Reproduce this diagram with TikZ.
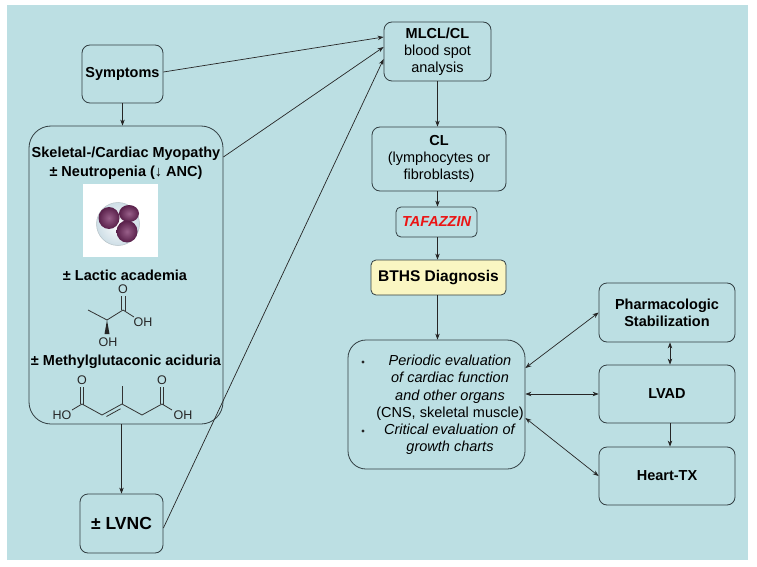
\documentclass[tikz,border=0pt]{standalone}
\usepackage{fontspec}
\setmainfont{Liberation Sans}
\usetikzlibrary{arrows.meta,calc}
\definecolor{bg}{RGB}{188,223,227}
\definecolor{boxline}{RGB}{50,62,66}
\definecolor{bthsfill}{RGB}{250,246,194}
\definecolor{tafred}{RGB}{235,20,20}
\definecolor{cellfill}{RGB}{206,222,230}
\definecolor{lobe}{RGB}{118,42,98}
\tikzset{
  box/.style={draw=boxline, rounded corners=8pt, line width=0.8pt, align=center, inner sep=0pt,
    font=\fontsize{14.5}{17}\selectfont},
  arr/.style={-{Stealth[length=6pt,width=4.5pt]}, line width=0.7pt, draw=black!85},
  darr/.style={{Stealth[length=6pt,width=4.5pt]}-{Stealth[length=6pt,width=4.5pt]}, line width=0.7pt, draw=black!85},
  lbl/.style={inner sep=0pt, font=\fontsize{14.5}{17}\selectfont\bfseries},
  atom/.style={inner sep=0pt, font=\fontsize{12.5}{13}\selectfont, text=black!85},
  bond/.style={line width=0.8pt, draw=black!80},
  lobeshade/.style={inner color=lobe!75!white, outer color=lobe!75!black}
}
\begin{document}
\begin{tikzpicture}[x=1pt,y=-1pt]
\useasboundingbox (0,0) rectangle (757,567);
\fill[white] (0,0) rectangle (757,567);
\fill[bg] (7,5) rectangle (748,560);

% left column
\node[box, minimum width=81pt, minimum height=58pt, font=\fontsize{14.5}{17}\selectfont\bfseries] (sym) at (122.5,74) {Symptoms};
\node[box, rounded corners=22pt, minimum width=194pt, minimum height=298pt] (big) at (126,275) {};
\node[box, minimum width=83pt, minimum height=59pt, font=\fontsize{17.5}{20}\selectfont\bfseries] (lvnc) at (121.5,523.5) {± LVNC};

\node[lbl] (t1) at (126,154) {Skeletal-/Cardiac Myopathy};
\node[lbl] (t2) at (126,173) {± Neutropenia (↓ ANC)};
\node[lbl] (t3) at (125,275) {± Lactic academia};
\node[lbl] (t4) at (126,362) {± Methylglutaconic aciduria};

% neutrophil picture
\fill[white] (83,184) rectangle (158,257);
\shade[inner color=white, outer color=cellfill] (118,224) circle (21.5);
\draw[cellfill!70!gray, line width=0.5pt] (118,224) circle (21.5);
\shade[lobeshade] (109,218) ellipse (10.5 and 11);
\shade[lobeshade] (129,213.5) ellipse (10 and 8.5);
\shade[lobeshade] (127,231.5) ellipse (10.5 and 11);

% lactic acid
\draw[bond] (88,310) -- (107,320) -- (123,310) -- (134,317);
\draw[bond] (121.5,310) -- (121.5,296);
\draw[bond] (125,311) -- (125,296);
\fill[black!85] (107,320) -- (104.5,334) -- (109.5,334) -- cycle;
\node[atom] (la1) at (123,289) {O};
\node[atom] (la2) at (143,322) {OH};
\node[atom] (la3) at (108,342) {OH};

% methylglutaconic acid
\draw[bond] (72,410) -- (82,404) -- (102,415) -- (122,404) -- (142,415) -- (162,404) -- (172,410);
\draw[bond] (122,404) -- (122,386);
\draw[bond] (80.3,404) -- (80.3,387);
\draw[bond] (83.8,405) -- (83.8,387);
\draw[bond] (160.3,404) -- (160.3,387);
\draw[bond] (163.8,405) -- (163.8,387);
\draw[bond] (106.5,416.5) -- (120.5,408.8);
\node[atom] (mg1) at (62,415) {HO};
\node[atom] (mg2) at (82,380) {O};
\node[atom] (mg3) at (162,380) {O};
\node[atom] (mg4) at (183,415) {OH};

% middle column
\node[box, minimum width=107pt, minimum height=59pt] (mlcl) at (437.5,51.5) {\textbf{MLCL/CL}\\blood spot\\analysis};
\node[box, minimum width=134pt, minimum height=64pt] (cl) at (439,159) {\textbf{CL}\\(lymphocytes or\\fibroblasts)};
\node[box, minimum width=81pt, minimum height=30pt, rounded corners=5pt, text=tafred, font=\fontsize{14.5}{17}\selectfont\bfseries\itshape] (taf) at (436.5,222) {TAFAZZIN};
\node[box, minimum width=135pt, minimum height=35pt, rounded corners=5pt, fill=bthsfill, font=\fontsize{15.5}{17}\selectfont\bfseries] (bths) at (438.5,277.5) {BTHS Diagnosis};
\node[box, rounded corners=18pt, minimum width=177pt, minimum height=129pt] (eval) at (436.5,404.5) {};
\node[inner sep=0pt, align=center, font=\fontsize{14.5}{17.2}\selectfont] (evtxt) at (450,405)
  {\textit{Periodic evaluation}\\\textit{of cardiac function}\\\textit{and other organs}\\(CNS, skeletal muscle)\\\textit{Critical evaluation of}\\\textit{growth charts}};
\fill[black!85] (363,362) circle (1.6);
\fill[black!85] (363,431) circle (1.6);

% right column
\node[box, minimum width=136pt, minimum height=59pt, font=\fontsize{14.5}{17}\selectfont\bfseries] (pharm) at (667,312.5) {Pharmacologic\\Stabilization};
\node[box, minimum width=136pt, minimum height=58pt, font=\fontsize{14.5}{17}\selectfont\bfseries] (lvad) at (667,394) {LVAD};
\node[box, minimum width=136pt, minimum height=58pt, font=\fontsize{14.5}{17}\selectfont\bfseries] (htx) at (667,476) {Heart-TX};

% connectors
\draw[arr] (sym.south) -- (big.north -| sym.south);
\draw[arr] (big.south -| lvnc.north) -- (lvnc.north);
\draw[arr] ([yshift=2pt]sym.east) -- ([yshift=14.5pt]mlcl.west);
\draw[arr] ([yshift=118pt]big.east) -- ([yshift=4.5pt]mlcl.west);
\draw[arr] ([yshift=-4.5pt]lvnc.east) -- ([yshift=-7.5pt]mlcl.west);
\draw[arr] (mlcl.south) -- (mlcl.south |- cl.north);
\draw[arr] (cl.south -| mlcl.south) -- (mlcl.south |- taf.north);
\draw[arr] (taf.south -| mlcl.south) -- (mlcl.south |- bths.north);
\draw[arr] (bths.south -| mlcl.south) -- (mlcl.south |- eval.north);
\draw[darr] ([yshift=36.5pt]eval.east) -- (pharm.west);
\draw[darr] (lvad.west -| eval.east) -- (lvad.west);
\draw[darr] ([yshift=-13.5pt]eval.east) -- (htx.west);
\draw[darr] ([xshift=3pt]pharm.south) -- ([xshift=3pt]lvad.north);
\draw[arr] ([xshift=3pt]lvad.south) -- ([xshift=3pt]htx.north);
\end{tikzpicture}
\end{document}
